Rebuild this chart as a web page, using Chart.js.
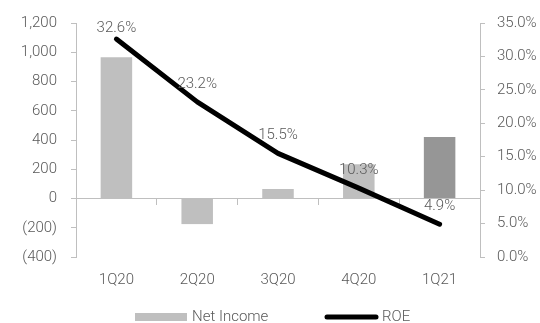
<!DOCTYPE html>
<html>
<head>
<meta charset="utf-8">
<script src="https://cdn.jsdelivr.net/npm/chart.js@4"></script>
<style>
  html, body { margin: 0; padding: 0; background: #fff; }
  #wrap { width: 540px; height: 323px; }
</style>
</head>
<body>
<div id="wrap"><canvas id="c" width="540" height="323"></canvas></div>
<script>
/* ── Data ─────────────────────────────────────────────────────── */

const quarters   = ['1Q20', '2Q20', '3Q20', '4Q20', '1Q21'];
const netIncome  = [965, -175, 65, 235, 420];
const roePct     = [32.6, 23.2, 15.5, 10.3, 4.9];
const barColors  = ['#bfbfbf', '#bfbfbf', '#bfbfbf', '#bfbfbf', '#969696'];
const leftTicks  = { min: -400, max: 1200, step: 200 };
const rightTicks = { min: 0, max: 35, step: 5 };

const FONT = "Roboto, 'DejaVu Sans Condensed', sans-serif";
const WEIGHT = 300;
const SIZE = 15;
const TEXT = '#595959';
const AXIS = '#bfbfbf';

function fmtThousands(v) {
    const s = Math.abs(v).toLocaleString('en-US');
    return v < 0 ? `(${s})` : s;
}

const tickFont = { family: FONT, size: SIZE, weight: WEIGHT };

/* ── Point labels above the ROE line ──────────────────────────── */

const roeLabels = {
    id: 'roeLabels',
    afterDatasetsDraw(chart) {
        const meta = chart.getDatasetMeta(1);
        const ctx = chart.ctx;
        const top = chart.chartArea.top;
        ctx.save();
        ctx.font = `${WEIGHT} ${SIZE}px ${FONT}`;
        ctx.fillStyle = TEXT;
        ctx.textAlign = 'center';
        ctx.textBaseline = 'middle';
        meta.data.forEach((pt, i) => {
            const y = Math.max(pt.y - 18, top + 5);
            ctx.fillText(roePct[i].toFixed(1) + '%', pt.x, y);
        });
        ctx.restore();
    }
};

/* ── Legend (bar swatch + thick line swatch) ──────────────────── */

const bottomLegend = {
    id: 'bottomLegend',
    afterDraw(chart) {
        const ctx = chart.ctx;
        const ds = chart.data.datasets;
        const y = 317;
        ctx.save();
        ctx.font = `${WEIGHT} ${SIZE}px ${FONT}`;
        ctx.textBaseline = 'middle';
        // bar item
        ctx.fillStyle = ds[0].backgroundColor[0];
        ctx.fillRect(135, y - 4, 52, 8);
        ctx.fillStyle = TEXT;
        ctx.fillText(ds[0].label, 192, y);
        // line item
        ctx.strokeStyle = ds[1].borderColor;
        ctx.lineWidth = 5;
        ctx.lineCap = 'round';
        ctx.beginPath(); ctx.moveTo(327, y); ctx.lineTo(376, y); ctx.stroke();
        ctx.fillText(ds[1].label, 382, y);
        ctx.restore();
    }
};

new Chart(document.getElementById('c'), {
    data: {
        labels: quarters,
        datasets: [
            {
                type: 'bar',
                label: 'Net Income',
                data: netIncome,
                backgroundColor: barColors,
                yAxisID: 'y',
                xAxisID: 'x',
                barPercentage: 0.78,
                categoryPercentage: 0.5,
                order: 2,
            },
            {
                type: 'line',
                label: 'ROE',
                data: roePct,
                borderColor: '#000',
                borderWidth: 5,
                borderCapStyle: 'round',
                borderJoinStyle: 'round',
                pointRadius: 0,
                tension: 0,
                yAxisID: 'y1',
                xAxisID: 'x',
                order: 1,
            },
        ],
    },
    options: {
        responsive: false,
        animation: false,
        layout: { padding: { top: 13, bottom: 0, left: 0, right: 0 } },
        plugins: { legend: { display: false }, tooltip: { enabled: false } },
        scales: {
            x: {
                type: 'category',
                position: 'bottom',
                offset: true,
                grid: { display: false },
                border: { display: false },
                ticks: { color: TEXT, font: tickFont, padding: 6 },
                afterFit: (s) => { s.height = 66; },
            },
            x0: {
                type: 'category',
                position: { y: 0 },
                axis: 'x',
                offset: true,
                grid: { offset: true, drawOnChartArea: false, drawTicks: true, tickLength: 6, color: AXIS },
                border: { display: true, color: AXIS, width: 1 },
                ticks: { display: false },
            },
            y: {
                position: 'left',
                min: leftTicks.min, max: leftTicks.max,
                ticks: {
                    stepSize: leftTicks.step,
                    color: TEXT, font: tickFont, padding: 14,
                    callback: (v) => fmtThousands(v),
                },
                grid: { drawOnChartArea: false, tickLength: 5, color: AXIS },
                border: { color: AXIS },
                afterFit: (s) => { s.width = 76; },
            },
            y1: {
                position: 'right',
                min: rightTicks.min, max: rightTicks.max,
                ticks: {
                    stepSize: rightTicks.step,
                    color: TEXT, font: tickFont, padding: 12,
                    callback: (v) => v.toFixed(1) + '%',
                },
                grid: { drawOnChartArea: false, tickLength: 5, color: AXIS },
                border: { color: AXIS },
                afterFit: (s) => { s.width = 60; },
            },
        },
    },
    plugins: [roeLabels, bottomLegend],
});
</script>
</body>
</html>
